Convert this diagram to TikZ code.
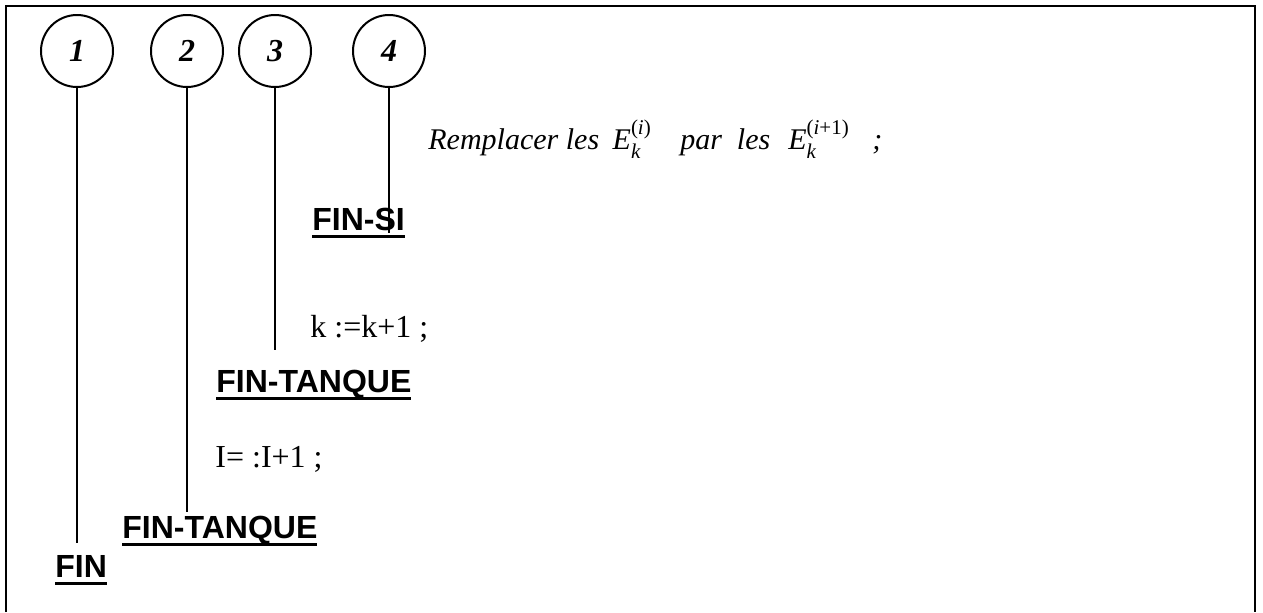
\documentclass[tikz,border=0pt]{standalone}
\usepackage{amsmath}
\usepackage{fontspec}
\setmainfont{Liberation Serif}
\setsansfont{Liberation Sans}
\newsavebox{\kwbox}
\newcommand{\kwline}[1]{\sbox{\kwbox}{#1}\usebox{\kwbox}\llap{\rule[-4pt]{\wd\kwbox}{1.4pt}}}
\newcommand{\Ek}[1]{$\textit{E}_{\textit{k}}^{#1}$}
\begin{document}
\begin{tikzpicture}[x=0.5pt,y=-0.5pt,
    num/.style={circle, draw, line width=1pt, minimum size=36pt, inner sep=0pt,
      font=\fontsize{16}{19}\selectfont\bfseries\itshape},
    kw/.style={anchor=base west, inner sep=0pt,
      font=\fontsize{16}{19}\selectfont\sffamily\bfseries},
    instr/.style={anchor=base west, inner sep=0pt, font=\fontsize{16}{19}\selectfont},
    level/.style={line width=1pt}]
        \useasboundingbox (0,0) rectangle (1263,612);
        % Frame (open at the bottom)
        \draw[line width=1.2pt] (6,612) -- (6,6) -- (1255,6) -- (1255,612);
        % Nesting levels
        \node[num] (c1) at (77,51) {1};
        \node[num] (c2) at (187,51) {2};
        \node[num] (c3) at (275,51) {3};
        \node[num] (c4) at (389,51) {4};
        \coordinate (e1) at (77,543);
        \coordinate (e2) at (187,512);
        \coordinate (e3) at (275,350);
        \coordinate (e4) at (389,233);
        % Body of the algorithm
        \node[instr, font=\fontsize{15}{18}\selectfont\itshape] (repl) at (428,149)
          {Remplacer les\hspace{0.45em}\Ek{\textup{(}\textit{i}\textup{)}}\hspace{0.95em}par\hspace{0.25em} les\hspace{0.6em}\Ek{\textup{(}\textit{i}\textup{+1)}}\hspace{0.75em};};
        \node[kw] (finsi) at (312,230) {\kwline{FIN-SI}};
        \node[instr] (incrk) at (310,337) {k :=k+1 ;};
        \node[kw] (fintq1) at (216,392) {\kwline{FIN-TANQUE}};
        \node[instr] (incri) at (215,467) {I= :I+1 ;};
        \node[kw] (fintq2) at (122,538) {\kwline{FIN-TANQUE}};
        \node[kw] (fin) at (55,577) {\kwline{FIN}};
        % Vertical bars
        \foreach \i in {1,...,4}
          \draw[level] (c\i) -- (e\i);
    \end{tikzpicture}
\end{document}
